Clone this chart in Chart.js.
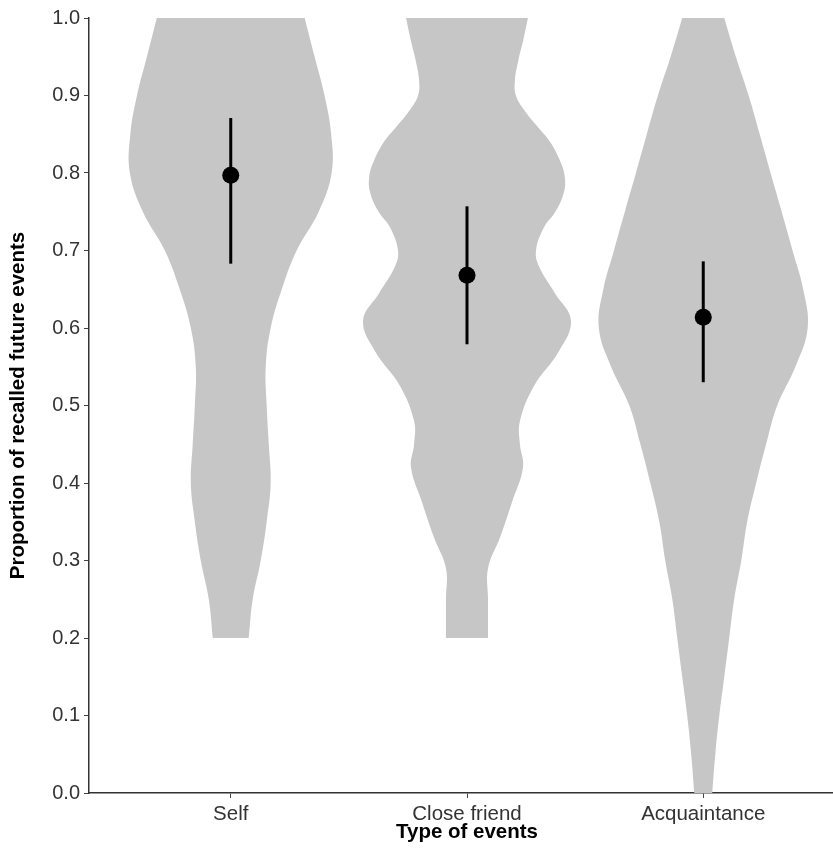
<!DOCTYPE html>
<html>
<head>
<meta charset="utf-8">
<script src="https://cdn.jsdelivr.net/npm/chart.js"></script>
<style>
  html, body { margin: 0; background: #fff; overflow: hidden; }
  canvas { display: block; }
</style>
</head>
<body>
<!-- the panel runs a little past the right edge of the window, as in the original figure -->
<canvas id="violinChart" width="845" height="853"></canvas>
<script>
var categories = ['Self', 'Close friend', 'Acquaintance'];
var means = [0.797, 0.668, 0.614];
var ciLow = [0.683, 0.579, 0.530];
var ciHigh = [0.871, 0.757, 0.686];

// violin outlines: proportion value and half width (in category units)
var selfY = [1.0, 0.95, 0.9, 0.85, 0.8, 0.75, 0.7, 0.65, 0.6, 0.55, 0.5, 0.45, 0.4, 0.35, 0.3, 0.25, 0.2];
var selfHalf = [0.313, 0.355, 0.397, 0.425, 0.427, 0.372, 0.279, 0.216, 0.169, 0.148, 0.152, 0.161, 0.169, 0.152, 0.127, 0.093, 0.076];

var friendY = [1.0, 0.97, 0.945, 0.92, 0.9, 0.88, 0.86, 0.84, 0.815, 0.795, 0.775, 0.75, 0.73, 0.7, 0.68, 0.645, 0.61, 0.57, 0.525, 0.48, 0.45, 0.42, 0.375, 0.33, 0.29, 0.25, 0.2];
var friendHalf = [0.258, 0.237, 0.217, 0.203, 0.207, 0.245, 0.298, 0.352, 0.395, 0.414, 0.410, 0.374, 0.326, 0.292, 0.304, 0.372, 0.440, 0.389, 0.283, 0.224, 0.224, 0.237, 0.190, 0.140, 0.089, 0.089, 0.089];

var acqY = [1.0, 0.95, 0.9, 0.85, 0.8, 0.75, 0.7, 0.65, 0.6, 0.55, 0.5, 0.45, 0.4, 0.35, 0.3, 0.25, 0.2, 0.15, 0.1, 0.05, 0.0];
var acqHalf = [0.089, 0.138, 0.192, 0.239, 0.285, 0.332, 0.378, 0.423, 0.442, 0.390, 0.313, 0.266, 0.224, 0.186, 0.161, 0.131, 0.110, 0.089, 0.068, 0.051, 0.038];

var violinGrey = '#c6c6c6';

// left side top->bottom, then right side bottom->top; bottom corners doubled so they stay square
function outline(center, ys, half) {
    var left = ys.map(function (y, i) { return {x: center - half[i], y: y}; });
    var right = ys.map(function (y, i) { return {x: center + half[i], y: y}; }).reverse();
    return left.concat([left[left.length - 1], right[0]], right);
}

var violins = [[selfY, selfHalf], [friendY, friendHalf], [acqY, acqHalf]].map(function (v, i) {
    return {
        data: outline(i + 1, v[0], v[1]),
        backgroundColor: violinGrey,
        borderWidth: 0,
        borderColor: 'rgba(0,0,0,0)',
        fill: 'shape',
        tension: 0.4,
        pointRadius: 0,
        order: 3
    };
});

var bars = categories.map(function (c, i) {
    return {
        data: [{x: i + 1, y: ciLow[i]}, {x: i + 1, y: ciHigh[i]}],
        borderColor: '#000',
        borderWidth: 3,
        borderCapStyle: 'butt',
        pointRadius: 0,
        fill: false,
        order: 2
    };
});

var meanPoints = {
    data: means.map(function (m, i) { return {x: i + 1, y: m}; }),
    showLine: false,
    pointRadius: 8.5,
    pointBackgroundColor: '#000',
    pointBorderWidth: 0,
    fill: false,
    order: 1
};

var axisFont = {family: '"Liberation Sans", Arial, sans-serif', size: 20.5};
var titleFont = {family: '"Liberation Sans", Arial, sans-serif', size: 20.5, weight: 'bold'};

var ctx = document.getElementById('violinChart').getContext('2d');
var myChart = new Chart(ctx, {
    type: 'line',
    data: {datasets: violins.concat(bars, [meanPoints])},
    options: {
        responsive: false,
        animation: false,
        indexAxis: 'y',
        layout: {autoPadding: false, padding: {top: 18, left: 0, right: 0, bottom: 0}},
        plugins: {legend: {display: false}, tooltip: {enabled: false}},
        scales: {
            x: {
                type: 'linear',
                min: 0.4,
                max: 3.6,
                afterBuildTicks: function (scale) {
                    scale.ticks = categories.map(function (c, i) { return {value: i + 1}; });
                },
                afterFit: function (scale) {
                    scale.height = 60;
                    scale.paddingLeft = 0;
                    scale.paddingRight = 0;
                },
                ticks: {
                    callback: function (v) { return categories[v - 1]; },
                    font: axisFont,
                    color: '#333',
                    padding: 4,
                    maxRotation: 0,
                    autoSkip: false
                },
                grid: {drawOnChartArea: false, tickLength: 5, color: '#444', lineWidth: 1},
                border: {display: true, color: '#333', width: 1.5},
                title: {display: true, text: 'Type of events', font: titleFont, color: '#000', padding: {top: 0, bottom: 8}}
            },
            y: {
                type: 'linear',
                min: 0,
                max: 1,
                afterFit: function (scale) { scale.width = 89; },
                ticks: {
                    stepSize: 0.1,
                    callback: function (v) { return v.toFixed(1); },
                    font: {family: axisFont.family, size: 20},
                    color: '#333',
                    padding: 4
                },
                grid: {drawOnChartArea: false, tickLength: 5, color: '#444', lineWidth: 1},
                border: {display: true, color: '#333', width: 1.5},
                title: {display: true, text: 'Proportion of recalled future events', font: titleFont, color: '#000', padding: {top: 6, bottom: 0}}
            }
        }
    }
});
</script>
</body>
</html>
